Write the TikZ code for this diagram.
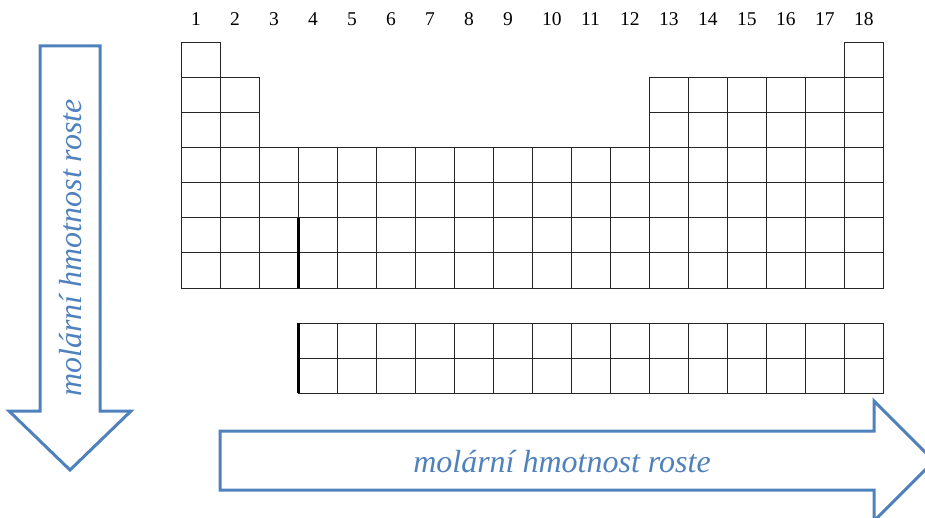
\documentclass[tikz,border=0pt]{standalone}
\usepackage{fontspec}
\setmainfont{Liberation Serif}
\definecolor{arrblue}{HTML}{4F81BD}
\begin{document}
\begin{tikzpicture}[x=1pt,y=-1pt,
  cellline/.style={draw=black!85, line width=0.8pt},
  thickline/.style={draw=black, line width=3pt},
  bigarrow/.style={draw=arrblue, line width=3pt, fill=white, line join=miter},
  arrowtext/.style={text=arrblue, font=\fontsize{32}{36}\selectfont\itshape, inner sep=0pt},
  colnum/.style={font=\fontsize{19.5}{22}\selectfont, inner sep=0pt, anchor=west}]
\useasboundingbox (0,0) rectangle (925,518);
\clip (0,0) rectangle (925,518);
\def\cw{39}\def\rh{35.143}
% main table cells
\foreach \c/\r in {1/1,18/1}{
  \draw[cellline] ({181+\cw*(\c-1)},{42+\rh*(\r-1)}) rectangle ++(\cw,\rh);}
\foreach \c in {1,2,13,14,15,16,17,18}{
  \foreach \r in {2,3}{
    \draw[cellline] ({181+\cw*(\c-1)},{42+\rh*(\r-1)}) rectangle ++(\cw,\rh);}}
\foreach \c in {1,...,18}{
  \foreach \r in {4,5,6,7}{
    \draw[cellline] ({181+\cw*(\c-1)},{42+\rh*(\r-1)}) rectangle ++(\cw,\rh);}}
% lanthanides / actinides
\foreach \c in {4,...,18}{
  \foreach \r in {0,1}{
    \draw[cellline] ({181+\cw*(\c-1)},{323+35*\r}) rectangle ++(\cw,35);}}
% thick separators
\coordinate (t1) at (298,218.4);
\coordinate (t2) at (298,288);
\coordinate (t3) at (298,323);
\coordinate (t4) at (298,393);
\draw[thickline] (t1) -- (t2);
\draw[thickline] (t3) -- (t4);
% column numbers
\foreach \c in {1,...,18}{
  \node[colnum] (n\c) at ({181+\cw*(\c-0.5)-9.7},19.5) {\c};}
% down arrow
\draw[bigarrow] (40,46) -- (100,46) -- (100,411) -- (131,411) -- (70,470)
  -- (9,411) -- (40,411) -- cycle;
\node[arrowtext, rotate=90] (vtext) at (71,248) {molární hmotnost roste};
% right arrow
\draw[bigarrow] (220,431) -- (874,431) -- (874,401) -- (934,461) -- (874,521)
  -- (874,490) -- (220,490) -- cycle;
\node[arrowtext] (htext) at (562,462) {molární hmotnost roste};
\end{tikzpicture}
\end{document}
